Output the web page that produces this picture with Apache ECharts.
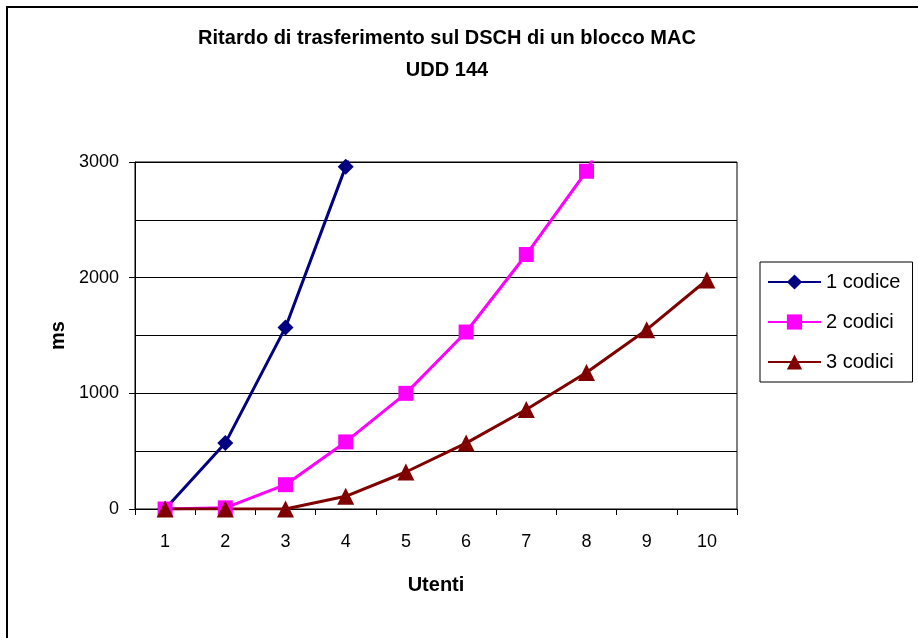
<!DOCTYPE html>
<html>
<head>
<meta charset="utf-8">
<script src="https://cdn.jsdelivr.net/npm/echarts@6/dist/echarts.min.js"></script>
<style>
  html, body { margin: 0; padding: 0; background: #fff; }
  #chart { width: 918px; height: 638px; }
</style>
</head>
<body>
<div id="chart"></div>
<script>
const utenti = ['1', '2', '3', '4', '5', '6', '7', '8', '9', '10']
const codice1 = [0, 570, 1570, 2960, 4650]
const codici2 = [0, 10, 210, 580, 1000, 1530, 2200, 2920, 3950]
const codici3 = [0, 0, 0, 110, 320, 570, 860, 1180, 1550, 1980]

const FONT = '"Liberation Sans", Arial, sans-serif'

const chart = echarts.init(document.getElementById('chart'))

function lineSeries(name, data, color, symbol, size) {
  return {
    name,
    type: 'line',
    data,
    clip: true,
    symbol,
    symbolSize: size,
    lineStyle: { color, width: 3 },
    itemStyle: { color },
    emphasis: { disabled: true },
  }
}

chart.setOption({
  animation: false,
  textStyle: { fontFamily: FONT },
  title: {
    left: 447,
    top: 22,
    padding: 0,
    textAlign: 'center',
    text: 'Ritardo di trasferimento sul DSCH di un blocco MAC\nUDD 144',
    textStyle: { fontFamily: FONT, fontSize: 20, fontWeight: 'bold', color: '#000', lineHeight: 32 },
  },
  legend: {
    orient: 'vertical',
    left: 760,
    top: 262,
    padding: [10, 12, 10, 7],
    borderColor: '#000',
    borderWidth: 1,
    itemWidth: 53,
    itemHeight: 19,
    itemGap: 20,
    textStyle: { fontFamily: FONT, fontSize: 20, color: '#000', lineHeight: 20 },
    data: ['1 codice', '2 codici', '3 codici'],
  },
  grid: {
    left: 135, right: 181, top: 162, bottom: 129,
    show: true, borderColor: '#000', borderWidth: 1,
  },
  xAxis: {
    type: 'category',
    data: utenti,
    boundaryGap: true,
    name: 'Utenti',
    nameLocation: 'middle',
    nameGap: 66,
    nameTextStyle: { fontFamily: FONT, fontSize: 20, fontWeight: 'bold', color: '#000' },
    axisLine: { lineStyle: { color: '#000', width: 1 } },
    axisTick: { show: true, interval: 0, length: 6, lineStyle: { color: '#000' } },
    axisLabel: { fontFamily: FONT, fontSize: 18, color: '#000', margin: 24, interval: 0 },
  },
  yAxis: {
    type: 'value',
    min: 0,
    max: 3000,
    interval: 1000,
    name: 'ms',
    nameLocation: 'middle',
    nameGap: 55,
    nameTextStyle: { fontFamily: FONT, fontSize: 20, fontWeight: 'bold', color: '#000' },
    axisLine: { show: true, lineStyle: { color: '#000', width: 1 } },
    axisTick: { show: true, length: 6, lineStyle: { color: '#000' } },
    axisLabel: { fontFamily: FONT, fontSize: 18, color: '#000', margin: 16, formatter: v => String(v) },
    splitLine: { show: true, lineStyle: { color: '#000', width: 1 } },
    minorTick: { show: false, splitNumber: 2 },
    minorSplitLine: { show: true, lineStyle: { color: '#000', width: 1 } },
  },
  graphic: [
    {
      type: 'rect',
      shape: { x: 7, y: 7, width: 2000, height: 2000 },
      style: { fill: 'none', stroke: '#000', lineWidth: 2 },
      silent: true,
    },
  ],
  series: [
    lineSeries('1 codice', codice1, '#000080', 'diamond', 16),
    lineSeries('2 codici', codici2, '#FF00FF', 'rect', 15),
    lineSeries('3 codici', codici3, '#800000', 'triangle', 17),
  ],
})
</script>
</body>
</html>
